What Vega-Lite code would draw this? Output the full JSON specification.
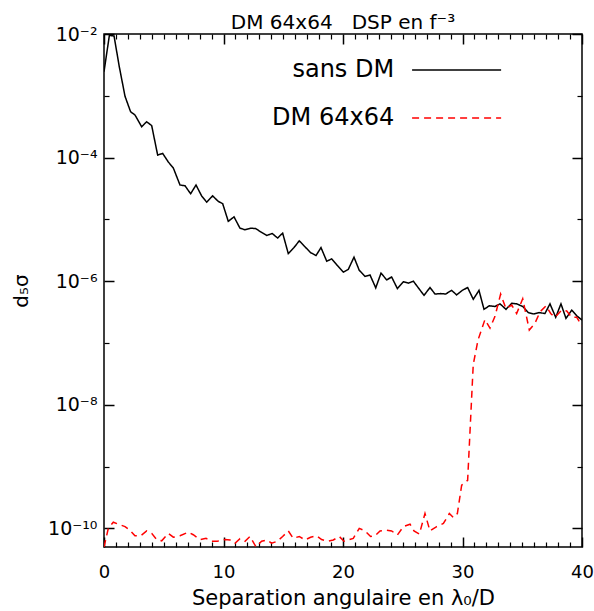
{
 "$schema": "https://vega.github.io/schema/vega-lite/v6.json",
 "width": 478, "height": 513,
 "autosize": "none",
 "padding": {"left": 104, "top": 34, "right": 12, "bottom": 64},
 "background": "white",
 "title": {"text": "DM 64x64\u00a0\u00a0\u00a0DSP en f⁻³", "fontSize": 20, "font": "DejaVu Sans", "fontWeight": "normal", "color": "black", "offset": 8, "dy": 16, "anchor": "middle"},
 "config": {
  "view": {"stroke": "black", "strokeWidth": 1.5},
  "axis": {"domain": false, "grid": false, "tickColor": "black", "labelColor": "black", "titleColor": "black", "labelFont": "DejaVu Sans", "titleFont": "DejaVu Sans", "titleFontWeight": "normal", "tickWidth": 1.5, "labelFlush": false, "labelOverlap": false}
 },
 "datasets": {
  "c": [
   {"x":0,"y":2.45e-3,"s":"sans DM"},{"x":0.45,"y":9.5e-3,"s":"sans DM"},{"x":0.84,"y":9.3e-3,"s":"sans DM"},{"x":1.28,"y":2.95e-3,"s":"sans DM"},{"x":1.76,"y":9.8e-4,"s":"sans DM"},{"x":2.23,"y":5.5e-4,"s":"sans DM"},{"x":2.59,"y":4.9e-4,"s":"sans DM"},{"x":3.15,"y":3.16e-4,"s":"sans DM"},{"x":3.57,"y":3.8e-4,"s":"sans DM"},{"x":3.99,"y":3.3e-4,"s":"sans DM"},{"x":4.49,"y":1.1e-4,"s":"sans DM"},{"x":4.91,"y":1.17e-4,"s":"sans DM"},{"x":5.38,"y":8.5e-5,"s":"sans DM"},{"x":5.8,"y":6.8e-5,"s":"sans DM"},{"x":6.36,"y":3.6e-5,"s":"sans DM"},{"x":6.78,"y":3.5e-5,"s":"sans DM"},{"x":7.25,"y":2.6e-5,"s":"sans DM"},{"x":7.7,"y":3.6e-5,"s":"sans DM"},{"x":8.17,"y":2.4e-5,"s":"sans DM"},{"x":8.59,"y":1.9e-5,"s":"sans DM"},{"x":9.09,"y":2.4e-5,"s":"sans DM"},{"x":9.57,"y":1.95e-5,"s":"sans DM"},{"x":9.93,"y":1.8e-5,"s":"sans DM"},{"x":10.4,"y":9.3e-6,"s":"sans DM"},{"x":10.88,"y":1.1e-5,"s":"sans DM"},{"x":11.38,"y":7.2e-6,"s":"sans DM"},{"x":11.8,"y":6.8e-6,"s":"sans DM"},{"x":12.27,"y":7.2e-6,"s":"sans DM"},{"x":12.69,"y":7.1e-6,"s":"sans DM"},{"x":13.11,"y":6.3e-6,"s":"sans DM"},{"x":13.61,"y":5.5e-6,"s":"sans DM"},{"x":14.08,"y":5.9e-6,"s":"sans DM"},{"x":14.53,"y":5.0e-6,"s":"sans DM"},{"x":14.95,"y":6.0e-6,"s":"sans DM"},{"x":15.42,"y":2.8e-6,"s":"sans DM"},{"x":15.9,"y":3.5e-6,"s":"sans DM"},{"x":16.34,"y":4.5e-6,"s":"sans DM"},{"x":16.82,"y":3.6e-6,"s":"sans DM"},{"x":17.29,"y":2.9e-6,"s":"sans DM"},{"x":17.74,"y":2.6e-6,"s":"sans DM"},{"x":18.16,"y":3.5e-6,"s":"sans DM"},{"x":18.64,"y":2.1e-6,"s":"sans DM"},{"x":19.05,"y":2.3e-6,"s":"sans DM"},{"x":19.52,"y":1.8e-6,"s":"sans DM"},{"x":20.03,"y":1.4e-6,"s":"sans DM"},{"x":20.44,"y":1.55e-6,"s":"sans DM"},{"x":20.92,"y":2.45e-6,"s":"sans DM"},{"x":21.36,"y":1.5e-6,"s":"sans DM"},{"x":21.84,"y":1.2e-6,"s":"sans DM"},{"x":22.26,"y":1.26e-6,"s":"sans DM"},{"x":22.74,"y":7.8e-7,"s":"sans DM"},{"x":23.18,"y":1.35e-6,"s":"sans DM"},{"x":23.66,"y":1.05e-6,"s":"sans DM"},{"x":24.07,"y":1.17e-6,"s":"sans DM"},{"x":24.55,"y":7.6e-7,"s":"sans DM"},{"x":25.05,"y":9.8e-7,"s":"sans DM"},{"x":25.47,"y":9.3e-7,"s":"sans DM"},{"x":25.89,"y":1.0e-6,"s":"sans DM"},{"x":26.35,"y":7.6e-7,"s":"sans DM"},{"x":26.78,"y":5.9e-7,"s":"sans DM"},{"x":27.28,"y":7.9e-7,"s":"sans DM"},{"x":27.7,"y":6.2e-7,"s":"sans DM"},{"x":28.17,"y":6.3e-7,"s":"sans DM"},{"x":28.59,"y":6.2e-7,"s":"sans DM"},{"x":29.09,"y":7.1e-7,"s":"sans DM"},{"x":29.51,"y":6.0e-7,"s":"sans DM"},{"x":29.98,"y":7.1e-7,"s":"sans DM"},{"x":30.43,"y":7.9e-7,"s":"sans DM"},{"x":30.9,"y":5.1e-7,"s":"sans DM"},{"x":31.38,"y":7.1e-7,"s":"sans DM"},{"x":31.8,"y":3.5e-7,"s":"sans DM"},{"x":32.24,"y":4.0e-7,"s":"sans DM"},{"x":32.72,"y":3.9e-7,"s":"sans DM"},{"x":33.14,"y":4.3e-7,"s":"sans DM"},{"x":33.64,"y":3.5e-7,"s":"sans DM"},{"x":34.12,"y":4.4e-7,"s":"sans DM"},{"x":34.53,"y":4.3e-7,"s":"sans DM"},{"x":35.04,"y":3.9e-7,"s":"sans DM"},{"x":35.51,"y":3.1e-7,"s":"sans DM"},{"x":35.98,"y":2.95e-7,"s":"sans DM"},{"x":36.43,"y":3.1e-7,"s":"sans DM"},{"x":36.9,"y":3.0e-7,"s":"sans DM"},{"x":37.32,"y":4.3e-7,"s":"sans DM"},{"x":37.8,"y":2.6e-7,"s":"sans DM"},{"x":38.24,"y":4.3e-7,"s":"sans DM"},{"x":38.66,"y":2.5e-7,"s":"sans DM"},{"x":39.14,"y":3.4e-7,"s":"sans DM"},{"x":39.56,"y":2.75e-7,"s":"sans DM"},{"x":40,"y":2.35e-7,"s":"sans DM"},
   {"x":0,"y":5.0e-11,"s":"DM 64x64"},{"x":0.36,"y":1.0e-10,"s":"DM 64x64"},{"x":0.78,"y":1.26e-10,"s":"DM 64x64"},{"x":1.2,"y":1.17e-10,"s":"DM 64x64"},{"x":1.76,"y":1.07e-10,"s":"DM 64x64"},{"x":2.18,"y":9.3e-11,"s":"DM 64x64"},{"x":2.59,"y":7.6e-11,"s":"DM 64x64"},{"x":3.07,"y":7.6e-11,"s":"DM 64x64"},{"x":3.57,"y":9.1e-11,"s":"DM 64x64"},{"x":3.99,"y":8.3e-11,"s":"DM 64x64"},{"x":4.41,"y":6.6e-11,"s":"DM 64x64"},{"x":4.83,"y":6.3e-11,"s":"DM 64x64"},{"x":5.38,"y":8.3e-11,"s":"DM 64x64"},{"x":5.8,"y":7.2e-11,"s":"DM 64x64"},{"x":6.36,"y":7.6e-11,"s":"DM 64x64"},{"x":7.05,"y":8.7e-11,"s":"DM 64x64"},{"x":7.47,"y":7.9e-11,"s":"DM 64x64"},{"x":8.03,"y":6.6e-11,"s":"DM 64x64"},{"x":8.54,"y":6.9e-11,"s":"DM 64x64"},{"x":9.01,"y":6.2e-11,"s":"DM 64x64"},{"x":9.48,"y":6.2e-11,"s":"DM 64x64"},{"x":10.13,"y":6.6e-11,"s":"DM 64x64"},{"x":10.54,"y":6.5e-11,"s":"DM 64x64"},{"x":10.96,"y":5.75e-11,"s":"DM 64x64"},{"x":11.38,"y":6.8e-11,"s":"DM 64x64"},{"x":11.8,"y":6.2e-11,"s":"DM 64x64"},{"x":12.22,"y":7.4e-11,"s":"DM 64x64"},{"x":12.72,"y":5.0e-11,"s":"DM 64x64"},{"x":13.19,"y":6.2e-11,"s":"DM 64x64"},{"x":13.61,"y":6.5e-11,"s":"DM 64x64"},{"x":14.03,"y":5.75e-11,"s":"DM 64x64"},{"x":14.5,"y":6.2e-11,"s":"DM 64x64"},{"x":14.95,"y":7.4e-11,"s":"DM 64x64"},{"x":15.42,"y":9.1e-11,"s":"DM 64x64"},{"x":15.84,"y":6.9e-11,"s":"DM 64x64"},{"x":16.34,"y":7.4e-11,"s":"DM 64x64"},{"x":16.82,"y":6.5e-11,"s":"DM 64x64"},{"x":17.29,"y":7.2e-11,"s":"DM 64x64"},{"x":17.79,"y":7.6e-11,"s":"DM 64x64"},{"x":18.21,"y":6.6e-11,"s":"DM 64x64"},{"x":18.77,"y":6.2e-11,"s":"DM 64x64"},{"x":19.19,"y":6.5e-11,"s":"DM 64x64"},{"x":19.69,"y":7.4e-11,"s":"DM 64x64"},{"x":20.08,"y":6.2e-11,"s":"DM 64x64"},{"x":20.86,"y":6.9e-11,"s":"DM 64x64"},{"x":21.36,"y":1.0e-10,"s":"DM 64x64"},{"x":21.84,"y":9.1e-11,"s":"DM 64x64"},{"x":22.31,"y":7.4e-11,"s":"DM 64x64"},{"x":22.68,"y":7.6e-11,"s":"DM 64x64"},{"x":23.1,"y":9.1e-11,"s":"DM 64x64"},{"x":23.66,"y":9.3e-11,"s":"DM 64x64"},{"x":24.07,"y":9.1e-11,"s":"DM 64x64"},{"x":24.55,"y":7.8e-11,"s":"DM 64x64"},{"x":25.05,"y":1.07e-10,"s":"DM 64x64"},{"x":25.61,"y":1.17e-10,"s":"DM 64x64"},{"x":25.94,"y":9.1e-11,"s":"DM 64x64"},{"x":26.39,"y":8.1e-11,"s":"DM 64x64"},{"x":26.86,"y":1.74e-10,"s":"DM 64x64"},{"x":27.28,"y":9.1e-11,"s":"DM 64x64"},{"x":27.84,"y":1.07e-10,"s":"DM 64x64"},{"x":28.4,"y":1.2e-10,"s":"DM 64x64"},{"x":28.9,"y":1.74e-10,"s":"DM 64x64"},{"x":29.23,"y":1.5e-10,"s":"DM 64x64"},{"x":29.57,"y":1.74e-10,"s":"DM 64x64"},{"x":29.93,"y":5.0e-10,"s":"DM 64x64"},{"x":30.43,"y":6.0e-10,"s":"DM 64x64"},{"x":30.9,"y":4.5e-8,"s":"DM 64x64"},{"x":31.3,"y":1.12e-7,"s":"DM 64x64"},{"x":31.88,"y":2.4e-7,"s":"DM 64x64"},{"x":32.3,"y":1.74e-7,"s":"DM 64x64"},{"x":32.72,"y":2.7e-7,"s":"DM 64x64"},{"x":33.19,"y":6.2e-7,"s":"DM 64x64"},{"x":33.64,"y":3.6e-7,"s":"DM 64x64"},{"x":34.12,"y":4.1e-7,"s":"DM 64x64"},{"x":34.53,"y":3.0e-7,"s":"DM 64x64"},{"x":35.04,"y":5.2e-7,"s":"DM 64x64"},{"x":35.59,"y":1.62e-7,"s":"DM 64x64"},{"x":36.07,"y":2.1e-7,"s":"DM 64x64"},{"x":36.49,"y":3.2e-7,"s":"DM 64x64"},{"x":36.99,"y":4.0e-7,"s":"DM 64x64"},{"x":37.38,"y":3.0e-7,"s":"DM 64x64"},{"x":37.74,"y":2.6e-7,"s":"DM 64x64"},{"x":38.3,"y":3.4e-7,"s":"DM 64x64"},{"x":38.72,"y":3.3e-7,"s":"DM 64x64"},{"x":39.14,"y":2.6e-7,"s":"DM 64x64"},{"x":39.56,"y":2.6e-7,"s":"DM 64x64"},{"x":40,"y":1.9e-7,"s":"DM 64x64"}
  ]
 },
 "data": {"name": "c"},
 "layer": [
  {
   "mark": {"type": "line", "strokeWidth": 1.5, "clip": true},
   "encoding": {
    "x": {"field": "x", "type": "quantitative", "scale": {"domain": [0, 40], "nice": false, "zero": false},
      "axis": {"orient": "bottom", "values": [0, 10, 20, 30, 40], "tickSize": -10, "labelPadding": 26, "labelFontSize": 18, "title": "Separation angulaire en λ₀/D", "titleFontSize": 21, "titlePadding": 6}},
    "y": {"field": "y", "type": "quantitative", "scale": {"type": "log", "domain": [5e-11, 1e-2], "nice": false},
      "axis": {"orient": "left", "values": [1e-2, 1e-4, 1e-6, 1e-8, 1e-10], "tickSize": -10, "labelPadding": 17, "labelFontSize": 19,
        "labelExpr": "'10' + ['⁻²','⁻⁴','⁻⁶','⁻⁸','⁻¹⁰'][round((-log(datum.value)/LN10 - 2)/2)]",
        "title": "d₅σ", "titleFontSize": 20, "titlePadding": 16}},
    "color": {"field": "s", "type": "nominal", "scale": {"domain": ["sans DM", "DM 64x64"], "range": ["black", "red"]},
      "legend": {"orient": "none", "legendX": 340.6, "legendY": 24, "title": null, "symbolType": "M-5,0H5", "symbolSize": 317, "symbolStrokeWidth": 1.5, "labelFontSize": 24, "labelFont": "DejaVu Sans", "labelColor": "black", "labelAlign": "right", "labelOffset": -74.4, "rowPadding": 24, "padding": 0}},
    "strokeDash": {"field": "s", "type": "nominal", "scale": {"domain": ["sans DM", "DM 64x64"], "range": [[1, 0], [7, 5]]},
      "legend": {"orient": "none", "legendX": 340.6, "legendY": 24, "title": null, "symbolType": "M-5,0H5", "symbolSize": 317, "symbolStrokeWidth": 1.5, "labelFontSize": 24, "labelFont": "DejaVu Sans", "labelColor": "black", "labelAlign": "right", "labelOffset": -74.4, "rowPadding": 24, "padding": 0}}
   }
  },
  {
   "mark": {"type": "point", "opacity": 0},
   "encoding": {
    "x": {"field": "x", "type": "quantitative", "axis": {"orient": "bottom", "values": [1,2,3,4,5,6,7,8,9,11,12,13,14,15,16,17,18,19,21,22,23,24,25,26,27,28,29,31,32,33,34,35,36,37,38,39], "tickSize": -5, "tickWidth": 1.2, "labels": false, "title": null}},
    "y": {"field": "y", "type": "quantitative", "axis": {"orient": "left", "values": [1e-3, 1e-5, 1e-7, 1e-9], "tickSize": -5, "tickWidth": 1.2, "labels": false, "title": null}}
   }
  },
  {
   "mark": {"type": "point", "opacity": 0},
   "encoding": {
    "x": {"field": "x", "type": "quantitative", "axis": {"orient": "top", "values": [0, 10, 20, 30, 40], "tickSize": -10, "labels": false, "title": null}},
    "y": {"field": "y", "type": "quantitative", "axis": {"orient": "right", "values": [1e-2, 1e-4, 1e-6, 1e-8, 1e-10], "tickSize": -10, "labels": false, "title": null}}
   }
  },
  {
   "mark": {"type": "point", "opacity": 0},
   "encoding": {
    "x": {"field": "x", "type": "quantitative", "axis": {"orient": "top", "values": [1,2,3,4,5,6,7,8,9,11,12,13,14,15,16,17,18,19,21,22,23,24,25,26,27,28,29,31,32,33,34,35,36,37,38,39], "tickSize": -5, "tickWidth": 1.2, "labels": false, "title": null}},
    "y": {"field": "y", "type": "quantitative", "axis": {"orient": "right", "values": [1e-3, 1e-5, 1e-7, 1e-9], "tickSize": -5, "tickWidth": 1.2, "labels": false, "title": null}}
   }
  }
 ],
 "resolve": {"axis": {"x": "independent", "y": "independent"}}
}
